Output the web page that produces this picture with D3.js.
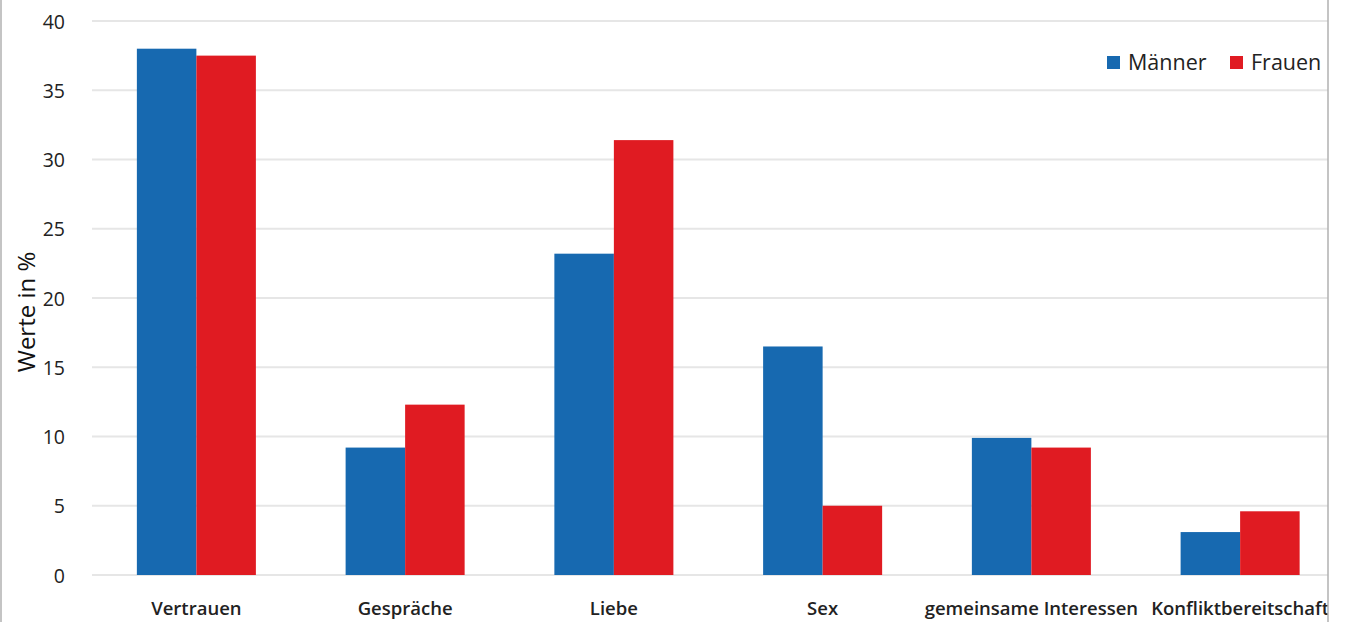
<!DOCTYPE html>
<html><head><meta charset="utf-8">
<script src="https://cdn.jsdelivr.net/npm/d3@7"></script>
<style>html,body{margin:0;padding:0;background:#fff;overflow:hidden}</style>
</head><body>
<svg id="chart" width="1345" height="622"></svg>
<script>
const categories = ["Vertrauen","Gespräche","Liebe","Sex","gemeinsame Interessen","Konfliktbereitschaft"];
const maenner = [38.0, 9.2, 23.2, 16.5, 9.9, 3.1];
const frauen  = [37.5, 12.3, 31.4, 5.0, 9.2, 4.6];
const seriesNames = ["Männer","Frauen"];
const seriesColors = ["#1769b0","#e01b22"];
const yTicks = [0,5,10,15,20,25,30,35,40];

(function(){
const svg = d3.select("#chart");
const W = 1345, H = 622;
const pLeft = 92, pRight = 1344.5, pTop = 21, pBottom = 575, clipX = 1328;

const x = d3.scaleBand().domain(categories).range([pLeft, pRight]).paddingInner(0).paddingOuter(0);
const xs = d3.scaleBand().domain(seriesNames).range([0, x.bandwidth()]).paddingInner(0).paddingOuter(0.754);
const y = d3.scaleLinear().domain([0,40]).range([pBottom, pTop]);

svg.append("defs").append("clipPath").attr("id","clip")
  .append("rect").attr("x",0).attr("y",0).attr("width",clipX).attr("height",H);

const g = svg.append("g").attr("clip-path","url(#clip)");

g.append("g").selectAll("line").data(yTicks).join("line")
  .attr("x1", pLeft).attr("x2", clipX)
  .attr("y1", d=>y(d)).attr("y2", d=>y(d))
  .attr("stroke","#e6e6e6").attr("stroke-width",2);

const data = categories.map((c,i)=>({cat:c, vals:[maenner[i], frauen[i]]}));
const grp = g.append("g").selectAll("g").data(data).join("g")
  .attr("transform", d=>`translate(${x(d.cat)},0)`);
grp.selectAll("rect").data(d=>d.vals.map((v,j)=>({s:seriesNames[j], v, j}))).join("rect")
  .attr("x", d=>xs(d.s)).attr("width", xs.bandwidth())
  .attr("y", d=>y(d.v)).attr("height", d=>y(0)-y(d.v))
  .attr("fill", d=>seriesColors[d.j]);

const yAxis = d3.axisLeft(y).tickValues(yTicks).tickSize(0).tickPadding(0);
const ya = svg.append("g").attr("transform","translate(65,0)").call(yAxis);
ya.select(".domain").remove();
ya.selectAll("text").attr("font-family","'Open Sans', sans-serif").attr("font-size",19.5)
  .attr("fill","#222").attr("dy","0.36em");

const xAxis = d3.axisBottom(x).tickSize(0).tickPadding(0);
const xa = g.append("g").attr("transform","translate(0,615)").call(xAxis);
xa.select(".domain").remove();
xa.selectAll("text").attr("font-family","'Open Sans', sans-serif").attr("font-size",18.5)
  .attr("fill","#222").attr("font-weight",600).attr("dy","0");

svg.append("text").attr("transform","translate(35,312) rotate(-90)")
  .attr("text-anchor","middle").attr("font-family","'Open Sans', sans-serif")
  .attr("font-size",24).attr("fill","#111").text("Werte in %");

const legend = svg.append("g");
const legX = [1107, 1230];
seriesNames.forEach((s,i)=>{
  legend.append("rect").attr("x",legX[i]).attr("y",56).attr("width",13).attr("height",13).attr("fill",seriesColors[i]);
  legend.append("text").attr("x",legX[i]+21).attr("y",70).attr("font-family","'Open Sans', sans-serif")
    .attr("font-size",21.5).attr("fill","#222").text(s);
});

svg.append("line").attr("x1",1).attr("x2",1).attr("y1",0).attr("y2",H).attr("stroke","#b0b0b0").attr("stroke-width",1.5);
svg.append("line").attr("x1",clipX).attr("x2",clipX).attr("y1",0).attr("y2",H).attr("stroke","#b0b0b0").attr("stroke-width",1.5);
})();
</script>
</body></html>
